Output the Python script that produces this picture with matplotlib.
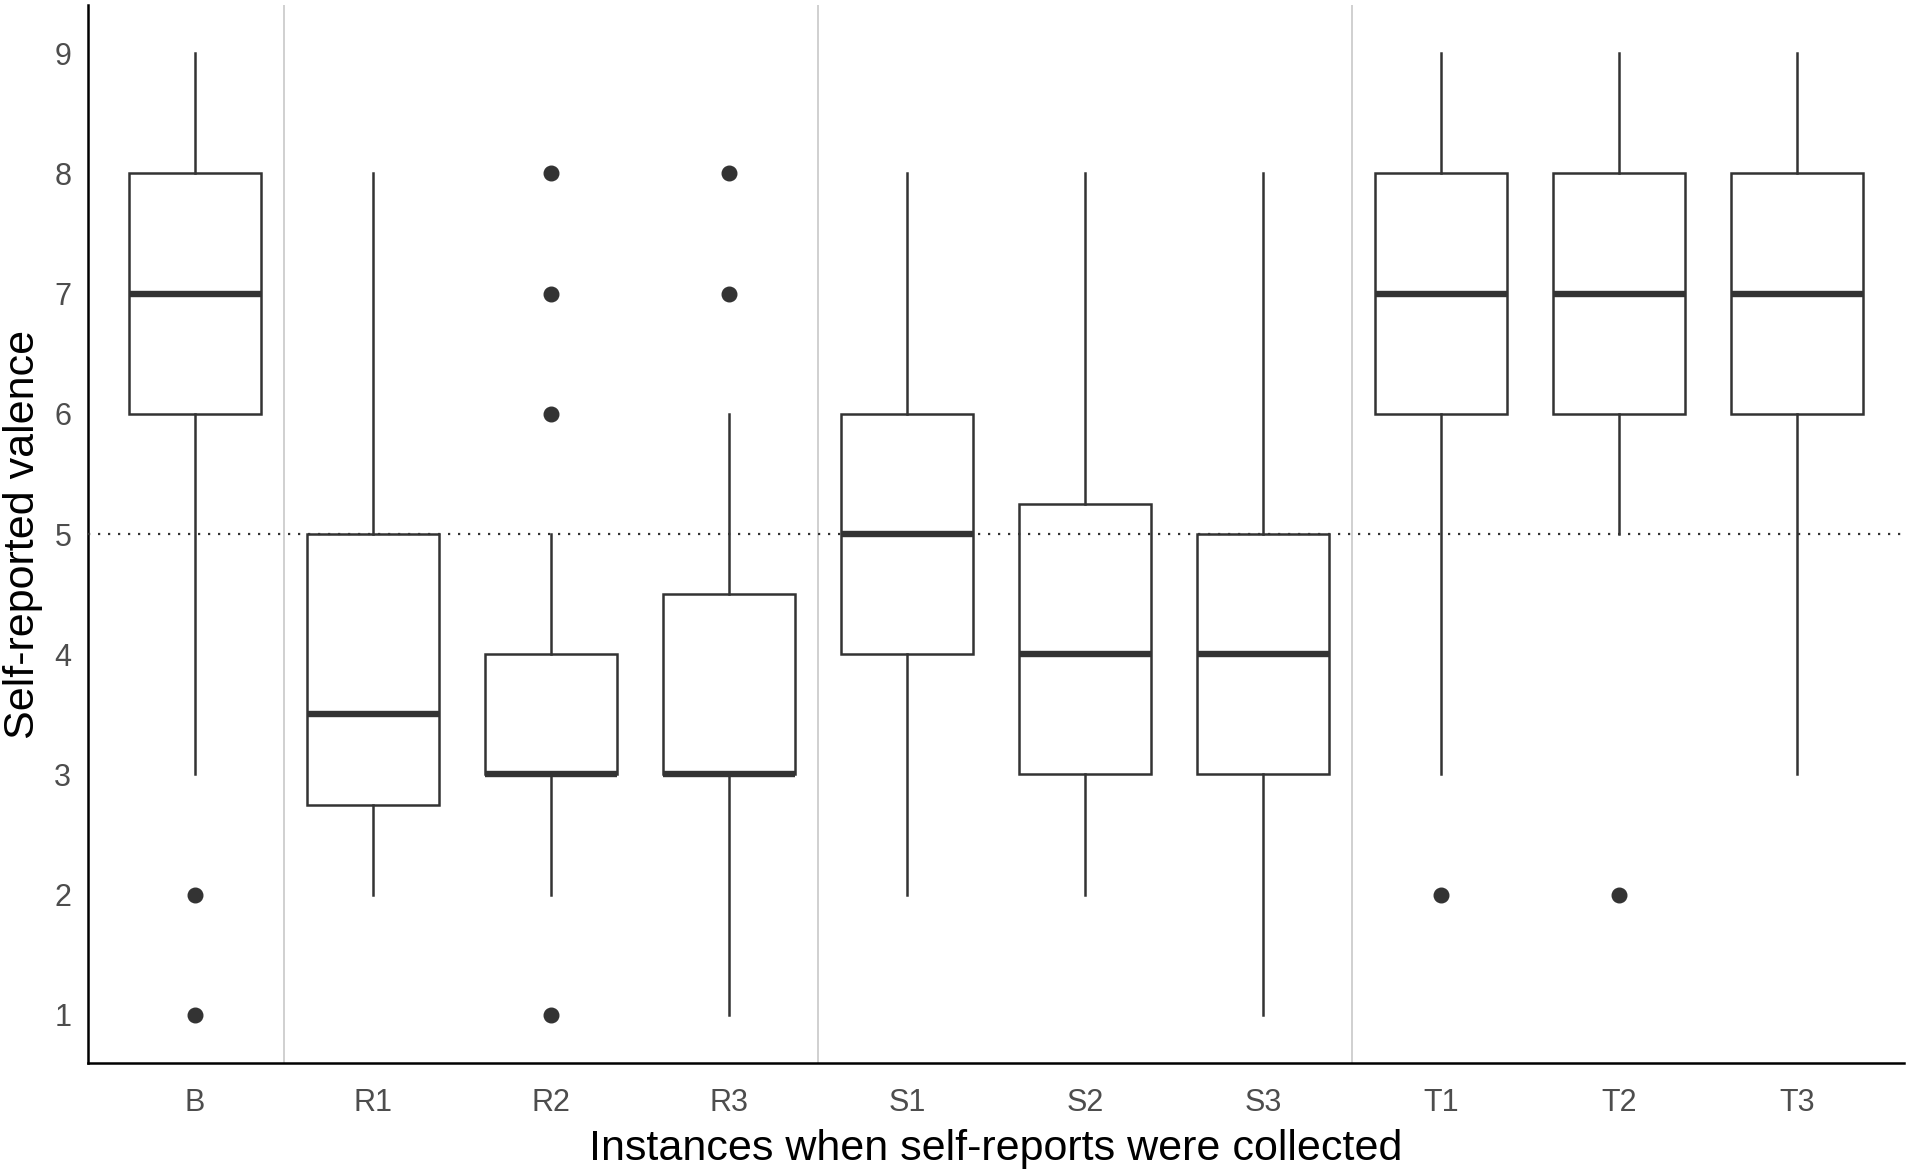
import matplotlib.pyplot as plt
import numpy as np

plt.rcParams['font.family'] = ['Liberation Sans', 'DejaVu Sans']

# Five-number summaries, one per collection instance
labels = ['B', 'R1', 'R2', 'R3', 'S1', 'S2', 'S3', 'T1', 'T2', 'T3']
whislo = [3, 2, 2, 1, 2, 2, 1, 3, 5, 3]
q1 = [6, 2.75, 3, 3, 4, 3, 3, 6, 6, 6]
med = [7, 3.5, 3, 3, 5, 4, 4, 7, 7, 7]
q3 = [8, 5, 4, 4.5, 6, 5.25, 5, 8, 8, 8]
whishi = [9, 8, 5, 6, 8, 8, 8, 9, 9, 9]
fliers = [[2, 1], [], [8, 7, 6, 1], [8, 7], [], [], [], [2], [2], []]

stats = []
for i in range(len(labels)):
    stats.append(dict(label=labels[i], whislo=whislo[i], q1=q1[i], med=med[i],
                      q3=q3[i], whishi=whishi[i], fliers=fliers[i]))

col = '#333333'
fig = plt.figure(figsize=(19.08, 11.73), dpi=100)
ax = fig.add_axes([88 / 1908, 1 - 1063 / 1173, (1904 - 88) / 1908, (1063 - 5) / 1173])

# separators between phases and the neutral reference line
for xv in [1.5, 4.5, 7.5]:
    ax.axvline(xv, color='#c8c8c8', lw=1.2, zorder=0)
ax.axhline(5, color=col, lw=1.6, linestyle=(0, (1, 3.5)), zorder=3)

pos = np.arange(1, len(labels) + 1)
ax.bxp(stats, positions=pos, widths=0.74, showcaps=False, patch_artist=True,
       boxprops=dict(facecolor='white', edgecolor=col, linewidth=1.8),
       whiskerprops=dict(color=col, linewidth=1.8),
       medianprops=dict(color=col, linewidth=4.6, solid_capstyle='butt'),
       flierprops=dict(marker='o', markerfacecolor=col, markeredgecolor=col,
                       markersize=10.5), zorder=2)

ax.set_xlim(0.4, 10.6)
ax.set_ylim(0.6, 9.4)
ax.set_xticks(pos)
ax.set_xticklabels(labels)
ax.set_yticks(range(1, 10))
ax.tick_params(length=0, labelsize=22, colors='#4d4d4d')
ax.tick_params(axis='x', pad=18)
ax.tick_params(axis='y', pad=12)

for s in ['top', 'right']:
    ax.spines[s].set_visible(False)
for s in ['left', 'bottom']:
    ax.spines[s].set_color('black')
    ax.spines[s].set_linewidth(1.8)

ax.set_xlabel('Instances when self-reports were collected', fontsize=31, labelpad=8)
ax.set_ylabel('Self-reported valence', fontsize=31, labelpad=8)

fig.savefig('out.png', dpi=100)
